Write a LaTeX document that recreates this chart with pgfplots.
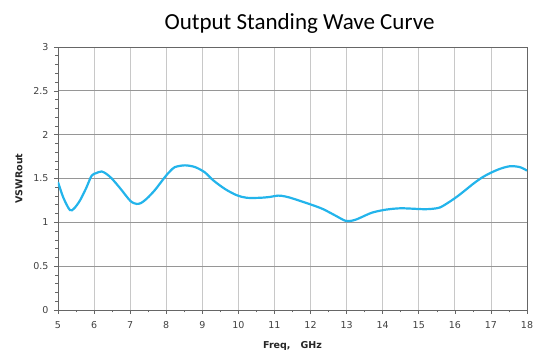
\documentclass[border=0pt]{standalone}
\usepackage{pgfplots}
\pgfplotsset{compat=1.18}
\usepackage{fontspec}
\setmainfont{DejaVu Sans}
\newfontfamily\titlefont{Carlito}
\definecolor{curve}{RGB}{35,180,235}
\definecolor{gridv}{RGB}{200,200,200}
\definecolor{gridh}{RGB}{150,150,150}
\begin{document}
\begin{tikzpicture}
\useasboundingbox (-58pt,-48pt) rectangle (483pt,310pt);
\begin{axis}[
  at={(0,0)}, anchor=south west,
  scale only axis, width=469pt, height=263pt,
  xmin=5, xmax=18, ymin=0, ymax=3,
  xtick={5,...,18}, ytick={0,0.5,...,3},
  yticklabels={0,0.5,1,1.5,2,2.5,3},
  minor x tick num=1, minor y tick num=4,
  tick align=outside,
  major tick length=4pt, minor tick length=2.5pt,
  xtick pos=bottom, ytick pos=left,
  grid=major,
  x grid style={gridv, line width=0.8pt},
  y grid style={gridh, line width=0.8pt},
  axis line style={gray!80!black, line width=0.8pt},
  tick style={gray!80!black, line width=0.6pt},
  /pgf/number format/assume math mode=true,
  ticklabel style={font=\fontsize{9.5}{11}\selectfont, text=black!75},
  xticklabel style={yshift=-4pt},
  yticklabel style={xshift=-2pt},
  xlabel={\textbf{Freq,\hspace{10pt}GHz}},
  ylabel={\textbf{VSWRout}},
  label style={font=\fontsize{9.5}{11}\selectfont, text=black!85},
  xlabel style={yshift=-6pt},
  ylabel style={yshift=4pt},
  title={\titlefont\fontsize{23}{26}\selectfont Output Standing Wave Curve},
  title style={yshift=4pt, xshift=7pt},
]
\addplot[curve, line width=2.2pt, smooth, tension=0.5] coordinates {
(5.00,1.46) (5.15,1.28) (5.33,1.14) (5.45,1.16) (5.61,1.25) (5.78,1.39)
(5.93,1.53) (6.05,1.56) (6.21,1.58) (6.35,1.55) (6.49,1.50) (6.72,1.39)
(6.95,1.27) (7.05,1.23) (7.18,1.21) (7.30,1.22) (7.46,1.27) (7.69,1.37)
(7.97,1.52) (8.10,1.58) (8.24,1.63) (8.52,1.65) (8.80,1.63) (9.07,1.57)
(9.30,1.48) (9.63,1.38) (9.95,1.31) (10.23,1.28) (10.60,1.28) (10.88,1.29)
(11.10,1.305) (11.30,1.295) (11.52,1.27) (12.03,1.20) (12.35,1.15)
(12.72,1.07) (12.95,1.02) (13.09,1.015) (13.25,1.03) (13.42,1.06)
(13.70,1.11) (14.02,1.14) (14.30,1.155) (14.57,1.16) (15.13,1.15)
(15.40,1.155) (15.59,1.17) (15.80,1.22) (16.05,1.29) (16.30,1.37)
(16.51,1.44) (16.75,1.51) (16.97,1.56) (17.25,1.61) (17.53,1.64)
(17.80,1.63) (18.00,1.59)
};
\end{axis}
\end{tikzpicture}
\end{document}
